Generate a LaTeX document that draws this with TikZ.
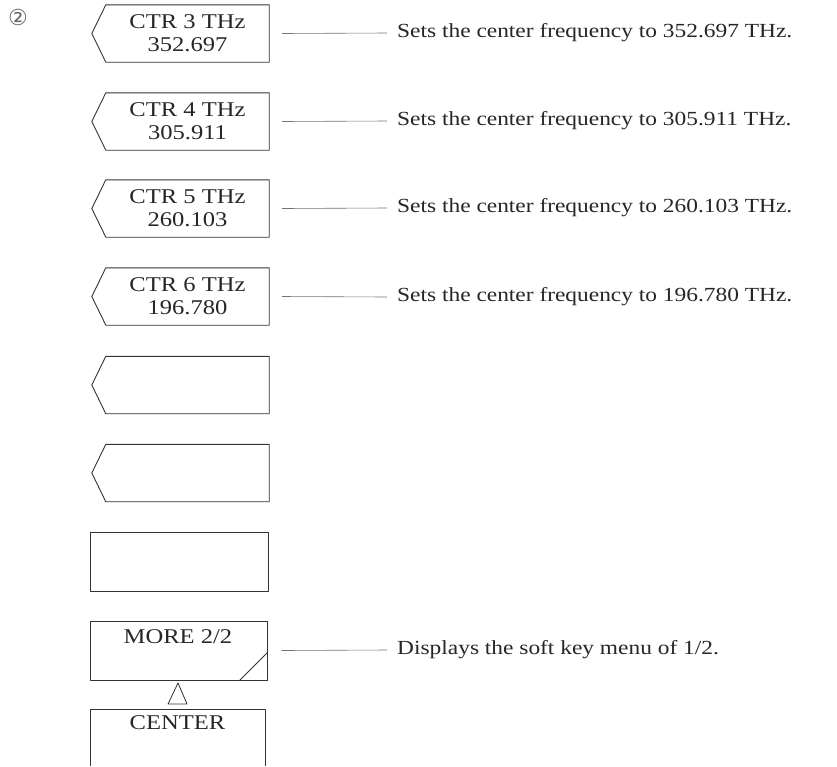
\documentclass[tikz,border=0pt]{standalone}
\usepackage{fontspec}
\setmainfont{Liberation Serif}[FakeStretch=1.17]
\newfontfamily\symfont{DejaVu Sans}
\begin{document}
\begin{tikzpicture}[x=1pt,y=-1pt,
  keybox/.style={minimum width=163pt,minimum height=57pt,inner sep=0pt,align=center,
    font=\fontsize{21}{23}\selectfont,text=black!85},
  boxline/.style={draw=black!80,line width=0.9pt,line join=round},
  desc/.style={anchor=west,inner sep=0pt,font=\fontsize{20}{23}\selectfont,text=black!85},
  conn/.style={draw=black!55,line width=0.6pt}]
\useasboundingbox (0,0) rectangle (837,766);
\node[font=\symfont\fontsize{22}{22}\selectfont,text=black!60,inner sep=0pt] (num) at (18,17) {②};
% soft keys with pointed left side
\foreach \i/\t/\a/\b in {1/5/CTR 3 THz/352.697, 2/93/CTR 4 THz/305.911, 3/180/CTR 5 THz/260.103, 4/268/CTR 6 THz/196.780}{
  \node[keybox] (b\i) at (187.5,\t+28.5) {\a\\\b};
  \draw[boxline] (b\i.north west) -- (b\i.north east) -- (b\i.south east) -- (b\i.south west) -- ([xshift=-14pt]b\i.west) -- cycle;
}
\foreach \i/\t in {5/356, 6/444}{
  \node[keybox] (b\i) at (187.5,\t+29) {};
  \draw[boxline] (b\i.north west) -- (b\i.north east) -- (b\i.south east) -- (b\i.south west) -- ([xshift=-14pt]b\i.west) -- cycle;
}
% plain key
\node[keybox,minimum width=178pt,minimum height=59pt,boxline] (b7) at (179,561.5) {};
% MORE key
\node[keybox,minimum width=177pt,minimum height=59pt,boxline] (b8) at (178.5,650.5) {};
\node[font=\fontsize{21}{23}\selectfont,text=black!85] (more) at (178,637) {MORE 2/2};
\draw[boxline] ([xshift=-28pt]b8.south east) -- ([yshift=28pt]b8.south east);
% triangle
\draw[boxline,line width=0.8pt] (178,683) -- (187,704) -- (168,704) -- cycle;
% CENTER key (open at bottom)
\coordinate (c1) at (90,766);
\coordinate (c2) at (90,709);
\coordinate (c3) at (265,709);
\coordinate (c4) at (265,766);
\draw[boxline] (c1) -- (c2) -- (c3) -- (c4);
\node[font=\fontsize{21}{23}\selectfont,text=black!85] (center) at (177.5,723) {CENTER};
% descriptions
\node[desc] (d1) at (397,33) {Sets the center frequency to 352.697 THz.};
\node[desc] (d2) at (397,121) {Sets the center frequency to 305.911 THz.};
\node[desc] (d3) at (397,208) {Sets the center frequency to 260.103 THz.};
\node[desc] (d4) at (397,297) {Sets the center frequency to 196.780 THz.};
\node[desc] (d8) at (397,650) {Displays the soft key menu of 1/2.};
\foreach \i in {1,2,3,4}{
  \draw[conn] ([xshift=13pt]b\i.east) -- ([xshift=-10pt]d\i.west);
}
\draw[conn] ([xshift=14pt]b8.east) -- ([xshift=-10pt]d8.west);
\end{tikzpicture}
\end{document}
